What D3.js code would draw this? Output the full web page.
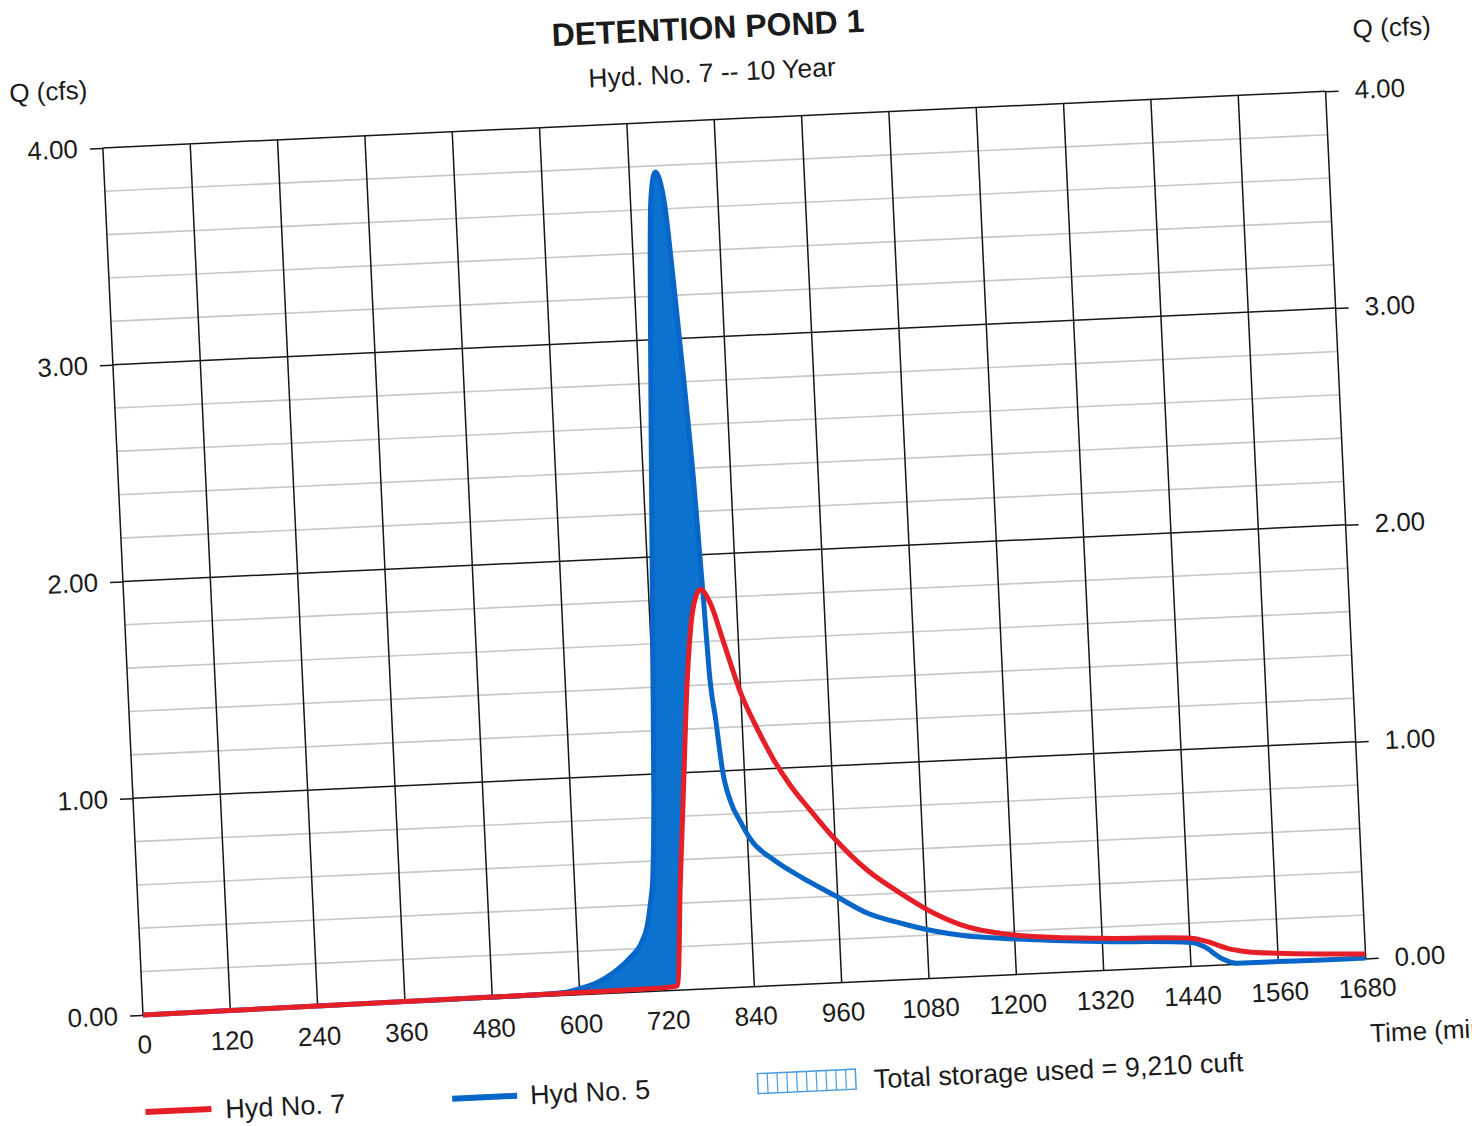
<!DOCTYPE html>
<html lang="en">
<head>
<meta charset="UTF-8">
<title>Detention Pond 1</title>
<script src="https://d3js.org/d3.v7.min.js"></script>
<style>
  body { margin: 0; background: #fff; }
  svg { display: block; font-family: "Liberation Sans", Arial, sans-serif; }
  .grid-major { stroke: #161616; stroke-width: 1.5; }
  .grid-minor { stroke: #c6c6c6; stroke-width: 1.6; }
  .axis path { display: none; }
  .axis line { stroke: #161616; stroke-width: 1.5; }
  .axis text, .label { font-family: "Liberation Sans", Arial, sans-serif; font-size: 26px; fill: #1b1b1b; }
  .legend-text { font-size: 27px; }
</style>
</head>
<body>
<div id="chart"></div>
<script>

// tick values
var timeTicks = [0, 120, 240, 360, 480, 600, 720, 840, 960, 1080, 1200, 1320, 1440, 1560, 1680];
var flowTicks = [0, 1, 2, 3, 4];
var minorFlow = [0.2, 0.4, 0.6, 0.8, 1.2, 1.4, 1.6, 1.8, 2.2, 2.4, 2.6, 2.8, 3.2, 3.4, 3.6, 3.8];

// Hyd No. 7 (pond outflow), time in min, Q in cfs
var outTime = [0, 120, 240, 360, 480, 600, 700, 725, 734, 745, 756, 767, 778, 786, 791, 804, 820, 840, 860, 881,
               902, 928, 958, 1002, 1046, 1091, 1136, 1181, 1318, 1442, 1464, 1491, 1518, 1560, 1637, 1680];
var outFlow = [0, 0.002, 0.004, 0.006, 0.008, 0.010, 0.013, 0.016, 0.02, 0.49, 0.95, 1.41, 1.72, 1.82, 1.84, 1.774, 1.588, 1.354, 1.19, 1.04,
               0.92, 0.80, 0.67, 0.513, 0.40, 0.30, 0.23, 0.193, 0.149, 0.13, 0.111, 0.076, 0.056, 0.042, 0.027, 0.02];

// Hyd No. 5 (pond inflow)
var inTime = [0, 120, 240, 360, 480, 540, 578, 601, 625, 648, 672, 687, 697, 703, 707, 714, 722, 731, 740, 748, 756,
              766, 774, 782, 789, 795, 798, 804, 810, 819, 831, 844, 875, 910, 955, 1000, 1045, 1090, 1135, 1181,
              1318, 1441, 1459, 1482, 1504, 1559, 1637, 1680];
var inFlow = [0, 0.002, 0.004, 0.006, 0.008, 0.01, 0.014, 0.029, 0.053, 0.095, 0.161, 0.22, 0.303, 0.41, 0.50, 0.881, 1.572, 2.341, 3.105, 3.644, 3.772,
              3.641, 3.255, 2.793, 2.330, 1.776, 1.468, 1.236, 1.005, 0.86, 0.765, 0.68, 0.579, 0.497, 0.405, 0.314, 0.261, 0.218, 0.188, 0.171,
              0.134, 0.110, 0.089, 0.032, 0.005, 0.004, 0.002, 0.002];

var outData = outTime.map(function (t, i) { return {t: t, q: outFlow[i]}; });
var inData = inTime.map(function (t, i) { return {t: t, q: inFlow[i]}; });

var width = 1224, height = 868;

var svg = d3.select("#chart").append("svg")
    .attr("width", 1472)
    .attr("height", 1126);

svg.append("rect").attr("width", 1472).attr("height", 1126).attr("fill", "#fff");

// the scanned sheet is slightly tilted
var g = svg.append("g")
    .attr("transform", "translate(143,1015) rotate(-2.65) translate(0," + (-height) + ")");

var x = d3.scaleLinear().domain([0, 1680]).range([0, width]);
var y = d3.scaleLinear().domain([0, 4]).range([height, 0]);

// grid
g.selectAll(".grid-minor").data(minorFlow).enter().append("line")
    .attr("class", "grid-minor")
    .attr("x1", 0).attr("x2", width)
    .attr("y1", function (d) { return y(d); }).attr("y2", function (d) { return y(d); });

g.selectAll(".vgrid").data(timeTicks).enter().append("line")
    .attr("class", "grid-major")
    .attr("x1", function (d) { return x(d); }).attr("x2", function (d) { return x(d); })
    .attr("y1", 0).attr("y2", height);

g.selectAll(".hgrid").data(flowTicks).enter().append("line")
    .attr("class", "grid-major")
    .attr("x1", 0).attr("x2", width)
    .attr("y1", function (d) { return y(d); }).attr("y2", function (d) { return y(d); });

// storage = area between inflow and outflow
g.append("clipPath").attr("id", "aboveOut")
    .append("path")
    .attr("d", d3.area().curve(d3.curveMonotoneX)
        .x(function (d) { return x(d.t); })
        .y0(0)
        .y1(function (d) { return y(d.q); })(outData));

g.append("path")
    .attr("clip-path", "url(#aboveOut)")
    .attr("fill", "#0c72cf")
    .attr("d", d3.area().curve(d3.curveMonotoneX)
        .x(function (d) { return x(d.t); })
        .y0(height)
        .y1(function (d) { return y(d.q); })(inData));

var line = d3.line().curve(d3.curveMonotoneX)
    .x(function (d) { return x(d.t); })
    .y(function (d) { return y(d.q); });

g.append("path").datum(inData)
    .attr("fill", "none")
    .attr("stroke", "#0866c9")
    .attr("stroke-width", 5)
    .attr("stroke-linejoin", "round")
    .attr("d", line);

g.append("path").datum(outData)
    .attr("fill", "none")
    .attr("stroke", "#e61e27")
    .attr("stroke-width", 5)
    .attr("stroke-linejoin", "round")
    .attr("d", line);

// axes
g.append("g").attr("class", "axis")
    .call(d3.axisLeft(y).tickValues(flowTicks).tickSize(13).tickPadding(12).tickFormat(d3.format(".2f")));

g.append("g").attr("class", "axis")
    .attr("transform", "translate(" + width + ",0)")
    .call(d3.axisRight(y).tickValues(flowTicks).tickSize(13).tickPadding(16).tickFormat(d3.format(".2f")));

g.append("g").attr("class", "axis")
    .attr("transform", "translate(0," + height + ")")
    .call(d3.axisBottom(x).tickValues(timeTicks).tickSize(0).tickPadding(20).tickFormat(d3.format("d")));

// titles
g.append("text").attr("class", "label")
    .attr("x", 610).attr("y", -81)
    .attr("text-anchor", "middle")
    .style("font-size", "32px").style("font-weight", "bold")
    .text("DETENTION POND 1");

g.append("text").attr("class", "label")
    .attr("x", 612).attr("y", -38)
    .attr("text-anchor", "middle")
    .style("font-size", "26.5px")
    .text("Hyd. No. 7 -- 10 Year");

g.append("text").attr("class", "label")
    .attr("x", -91).attr("y", -50)
    .text("Q (cfs)");

g.append("text").attr("class", "label")
    .attr("x", 1254).attr("y", -52)
    .text("Q (cfs)");

g.append("text").attr("class", "label")
    .attr("x", 1225).attr("y", 952)
    .text("Time (min)");

// legend
var legend = g.append("g");

legend.append("line")
    .attr("x1", -2).attr("x2", 64).attr("y1", 965).attr("y2", 965)
    .attr("stroke", "#e61e27").attr("stroke-width", 6);
legend.append("text").attr("class", "label legend-text")
    .attr("x", 78).attr("y", 975).text("Hyd No. 7");

legend.append("line")
    .attr("x1", 305).attr("x2", 370).attr("y1", 966).attr("y2", 966)
    .attr("stroke", "#0866c9").attr("stroke-width", 6);
legend.append("text").attr("class", "label legend-text")
    .attr("x", 383).attr("y", 975).text("Hyd No. 5");

var box = legend.append("g").attr("transform", "translate(611,955)");
box.append("rect")
    .attr("width", 98).attr("height", 20)
    .attr("fill", "none").attr("stroke", "#4a9ee0").attr("stroke-width", 1.5);
box.selectAll(".hatch").data(d3.range(1, 10)).enter().append("line")
    .attr("x1", function (d) { return d * 9.8; }).attr("x2", function (d) { return d * 9.8; })
    .attr("y1", 0).attr("y2", 20)
    .attr("stroke", "#4a9ee0").attr("stroke-width", 1.2);

legend.append("text").attr("class", "label legend-text")
    .attr("x", 727).attr("y", 975).text("Total storage used = 9,210 cuft");

</script>
</body>
</html>
